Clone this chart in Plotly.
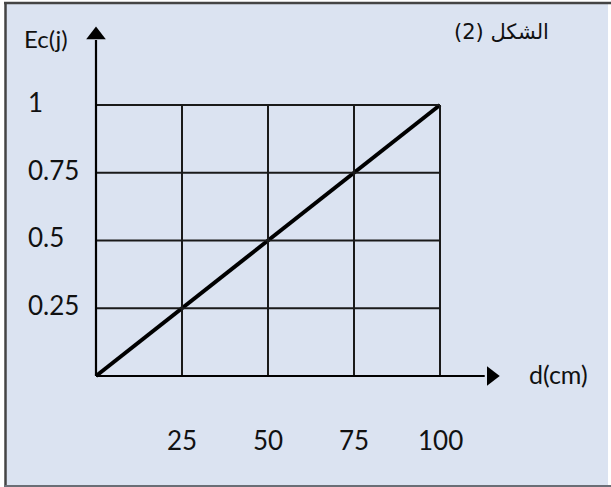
import plotly.graph_objects as go

# data
d_cm = [0, 25, 50, 75, 100]
ec_j = [0, 0.25, 0.5, 0.75, 1]
x_ticks = [25, 50, 75, 100]
y_ticks = [0.25, 0.5, 0.75, 1]
x_labels = ["25", "50", "75", "100"]
y_labels = ["0.25", "0.5", "0.75", "1"]

W, H = 611, 487
BG = "#dbe3f1"
FONT = "Lato"

# pixel mapping: x 0->96, 100->440 ; y 0->376, 1->105 (from top)
sx = 3.44
sy = 271.0
x_range = [-96 / sx, (W - 96) / sx]
y_range = [-(H - 376) / sy, 376 / sy]

fig = go.Figure()

shapes = []
# panel background and frame (right side is cut off in the picture)
shapes.append(dict(type="rect", xref="paper", yref="paper", layer="below",
                   x0=5 / W, x1=608 / W, y0=0, y1=1 - 3 / H,
                   fillcolor=BG, line=dict(width=0)))
shapes.append(dict(type="line", xref="paper", yref="paper",
                   x0=5.5 / W, x1=5.5 / W, y0=0, y1=1 - 2.5 / H,
                   line=dict(color="#444444", width=2.5)))
shapes.append(dict(type="line", xref="paper", yref="paper",
                   x0=4 / W, x1=1, y0=1 - 3 / H, y1=1 - 3 / H,
                   line=dict(color="#444444", width=2.5)))
shapes.append(dict(type="line", xref="paper", yref="paper",
                   x0=4 / W, x1=1, y0=1 - 486 / H, y1=1 - 486 / H,
                   line=dict(color="#6a6e76", width=2)))
# grid
for xv in x_ticks:
    shapes.append(dict(type="line", x0=xv, x1=xv, y0=0, y1=max(y_ticks),
                       line=dict(color="#1a1a1a", width=2)))
for yv in y_ticks:
    shapes.append(dict(type="line", x0=0, x1=max(x_ticks), y0=yv, y1=yv,
                       line=dict(color="#1a1a1a", width=2)))
# axes
shapes.append(dict(type="line", x0=0, x1=113, y0=0, y1=0,
                   line=dict(color="black", width=2.2)))
shapes.append(dict(type="line", x0=0, x1=0, y0=0, y1=1.24,
                   line=dict(color="black", width=2.2)))

fig.add_trace(go.Scatter(x=d_cm, y=ec_j, mode="lines",
                         line=dict(color="black", width=4), hoverinfo="skip"))
# arrow heads
fig.add_trace(go.Scatter(x=[0], y=[1.258], mode="markers",
                         marker=dict(symbol="triangle-up", size=17, color="black")))
fig.add_trace(go.Scatter(x=[114.9], y=[0], mode="markers",
                         marker=dict(symbol="triangle-right", size=17, color="black")))

ann = []
for yv, lab in zip(y_ticks, y_labels):
    ann.append(dict(x=26 / W, xref="paper", y=yv + 0.012, yref="y", text=lab,
                    xanchor="left", yanchor="middle", showarrow=False))
for xv, lab in zip(x_ticks, x_labels):
    ann.append(dict(x=xv, y=-0.236, text=lab, xanchor="center", yanchor="middle",
                    showarrow=False))
ann.append(dict(x=22 / W, xref="paper", y=1 - 38 / H, yref="paper", text="Ec(j)",
                xanchor="left", yanchor="middle", showarrow=False,
                font=dict(size=24)))
ann.append(dict(x=527 / W, xref="paper", y=1 - 374 / H, yref="paper", text="d(cm)",
                xanchor="left", yanchor="middle", showarrow=False,
                font=dict(size=25)))
ann.append(dict(x=452 / W, xref="paper", y=1 - 32 / H, yref="paper", text="(2) الشكل",
                xanchor="left", yanchor="middle", showarrow=False,
                font=dict(family="DejaVu Sans", size=21, color="#111")))

fig.update_layout(
    width=W, height=H,
    margin=dict(l=0, r=0, t=0, b=0),
    paper_bgcolor="white", plot_bgcolor="rgba(0,0,0,0)",
    showlegend=False,
    font=dict(family=FONT, size=26, color="#111"),
    xaxis=dict(range=x_range, visible=False, fixedrange=True),
    yaxis=dict(range=y_range, visible=False, fixedrange=True),
    shapes=shapes,
    annotations=ann,
)

fig.write_html("out.html", config={"displayModeBar": False},
               post_script="document.body.style.margin='0';")
